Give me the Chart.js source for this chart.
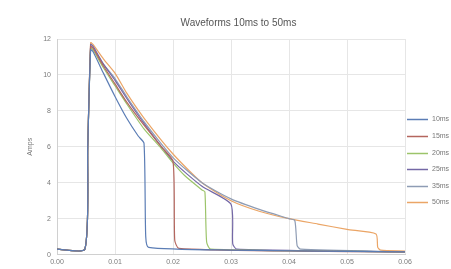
<!DOCTYPE html>
<html>
<head>
<meta charset="utf-8">
<script src="https://cdn.jsdelivr.net/npm/chart.js@4.4.0/dist/chart.umd.min.js"></script>
<style>
html,body{margin:0;padding:0;background:#fff;}
#wrap{width:451px;height:269px;}
</style>
</head>
<body>
<div id="wrap"><canvas id="c" width="451" height="269"></canvas></div>
<script>
const chartTitle = "Waveforms 10ms to 50ms";
const yAxisTitle = "Amps";
const seriesLabels = ["10ms", "15ms", "20ms", "25ms", "35ms", "50ms"];
const seriesColors = ["#5b7db5", "#b4665e", "#9cc46a", "#7468a6", "#8e9cb4", "#eba566"];

const t10 = [0, 4.8, 5.3, 5.8, 6.2, 8, 10, 12, 14, 15, 15.3, 15.8, 30, 60];
const v10 = [0.3, 0.3, 6.0, 11.4, 11.3, 10.1, 8.8, 7.6, 6.6, 6.2, 1.0, 0.4, 0.25, 0.15];

const t15 = [0, 4.8, 5.3, 5.8, 6.2, 8, 10, 12, 15, 18, 20, 20.3, 21, 40, 60];
const v15 = [0.3, 0.3, 6.0, 11.6, 11.5, 10.5, 9.5, 8.5, 7.2, 6.0, 5.2, 0.8, 0.35, 0.2, 0.15];

const t20 = [0, 4.8, 5.3, 5.8, 6.2, 8, 10, 12, 15, 18, 20, 22, 25, 25.5, 25.8, 26.5, 60];
const v20 = [0.3, 0.3, 6.0, 11.5, 11.4, 10.4, 9.4, 8.4, 7.0, 5.9, 5.1, 4.4, 3.6, 3.5, 0.7, 0.3, 0.15];

const t25 = [0, 4.8, 5.3, 5.8, 6.2, 8, 10, 12, 15, 20, 25, 30, 30.3, 31, 60];
const v25 = [0.3, 0.3, 6.0, 11.7, 11.6, 10.6, 9.7, 8.7, 7.3, 5.2, 3.8, 2.8, 0.6, 0.3, 0.15];

const t35 = [0, 4.8, 5.3, 5.8, 6.2, 8, 10, 12, 15, 20, 25, 30, 35, 40, 41, 41.4, 42, 60];
const v35 = [0.3, 0.3, 6.0, 11.6, 11.5, 10.6, 9.8, 8.8, 7.4, 5.4, 4.0, 3.1, 2.5, 2.0, 1.9, 0.5, 0.3, 0.15];

const t50 = [0, 4.8, 5.3, 5.8, 6.2, 8, 10, 12, 15, 20, 25, 30, 35, 40, 45, 50, 55, 55.3, 55.8, 60];
const v50 = [0.3, 0.3, 6.0, 11.8, 11.7, 10.9, 10.1, 9.0, 7.6, 5.6, 4.0, 3.0, 2.4, 2.0, 1.7, 1.4, 1.15, 0.4, 0.25, 0.2];

const xTicks = [0, 10, 20, 30, 40, 50, 60];
const xTickLabels = ["0.00", "0.01", "0.02", "0.03", "0.04", "0.05", "0.06"];
const yTicks = [0, 2, 4, 6, 8, 10, 12];

const times = [t10, t15, t20, t25, t35, t50];
const values = [v10, v15, v20, v25, v35, v50];

const datasets = seriesLabels.map((lab, i) => ({
  label: lab,
  data: times[i].map((t, j) => ({x: t, y: values[i][j]})),
  borderColor: seriesColors[i],
  backgroundColor: seriesColors[i],
  borderWidth: 1.2,
  pointRadius: 0,
  tension: 0.2,
  fill: false
}));

const gridColor = "#e6e6e6";
const tickColor = "#7a7a7a";
const fontFam = "'Liberation Sans', Arial, sans-serif";

// right-side legend drawn from the dataset labels/colours
const sideLegend = {
  id: 'sideLegend',
  afterDraw(chart) {
    const ctx = chart.ctx;
    const ca = chart.chartArea;
    const x0 = ca.right + 2;
    const n = chart.data.datasets.length;
    const step = 16.6;
    const yStart = (ca.top + ca.bottom) / 2 + 14 - step * (n - 1) / 2;
    ctx.save();
    ctx.font = "7px " + fontFam;
    ctx.textBaseline = 'middle';
    ctx.textAlign = 'left';
    chart.data.datasets.forEach((ds, i) => {
      const y = Math.round(yStart + i * step) + 0.5;
      ctx.strokeStyle = ds.borderColor;
      ctx.lineWidth = 1.5;
      ctx.beginPath(); ctx.moveTo(x0, y); ctx.lineTo(x0 + 21, y); ctx.stroke();
      ctx.fillStyle = "#777";
      ctx.fillText(ds.label, x0 + 25, y);
    });
    ctx.restore();
  }
};

new Chart(document.getElementById('c'), {
  type: 'line',
  data: {datasets},
  plugins: [sideLegend],
  options: {
    responsive: false,
    animation: false,
    devicePixelRatio: 1,
    layout: {padding: {left: 26, right: 0, top: 13, bottom: 0}},
    plugins: {
      title: {
        display: true, text: chartTitle, color: "#555",
        font: {family: fontFam, size: 10, weight: 'normal'},
        padding: {top: 4, bottom: 10}
      },
      legend: {display: false},
      tooltip: {enabled: false}
    },
    scales: {
      x: {
        type: 'linear', min: 0, max: 60,
        afterBuildTicks: ax => { ax.ticks = xTicks.map(v => ({value: v})); },
        ticks: {
          color: tickColor, font: {family: fontFam, size: 7}, padding: 3,
          maxRotation: 0,
          callback: (v) => { const k = xTicks.indexOf(v); return k >= 0 ? xTickLabels[k] : ''; }
        },
        grid: {color: gridColor, drawTicks: false},
        border: {color: "#d0d0d0"}
      },
      y: {
        min: 0, max: 12,
        afterBuildTicks: ax => { ax.ticks = yTicks.map(v => ({value: v})); },
        afterFit: ax => { ax.width = 31; },
        title: {display: true, text: yAxisTitle, color: "#777", font: {family: fontFam, size: 7}, padding: 0},
        ticks: {color: tickColor, font: {family: fontFam, size: 7}, padding: 6},
        grid: {color: gridColor, drawTicks: false},
        border: {color: "#d0d0d0"}
      },
      yLegendSpace: {
        position: 'right', min: 0, max: 12,
        afterFit: ax => { ax.width = 46; },
        ticks: {display: false},
        grid: {display: false, drawTicks: false},
        border: {display: false}
      }
    }
  }
});
</script>
</body>
</html>
